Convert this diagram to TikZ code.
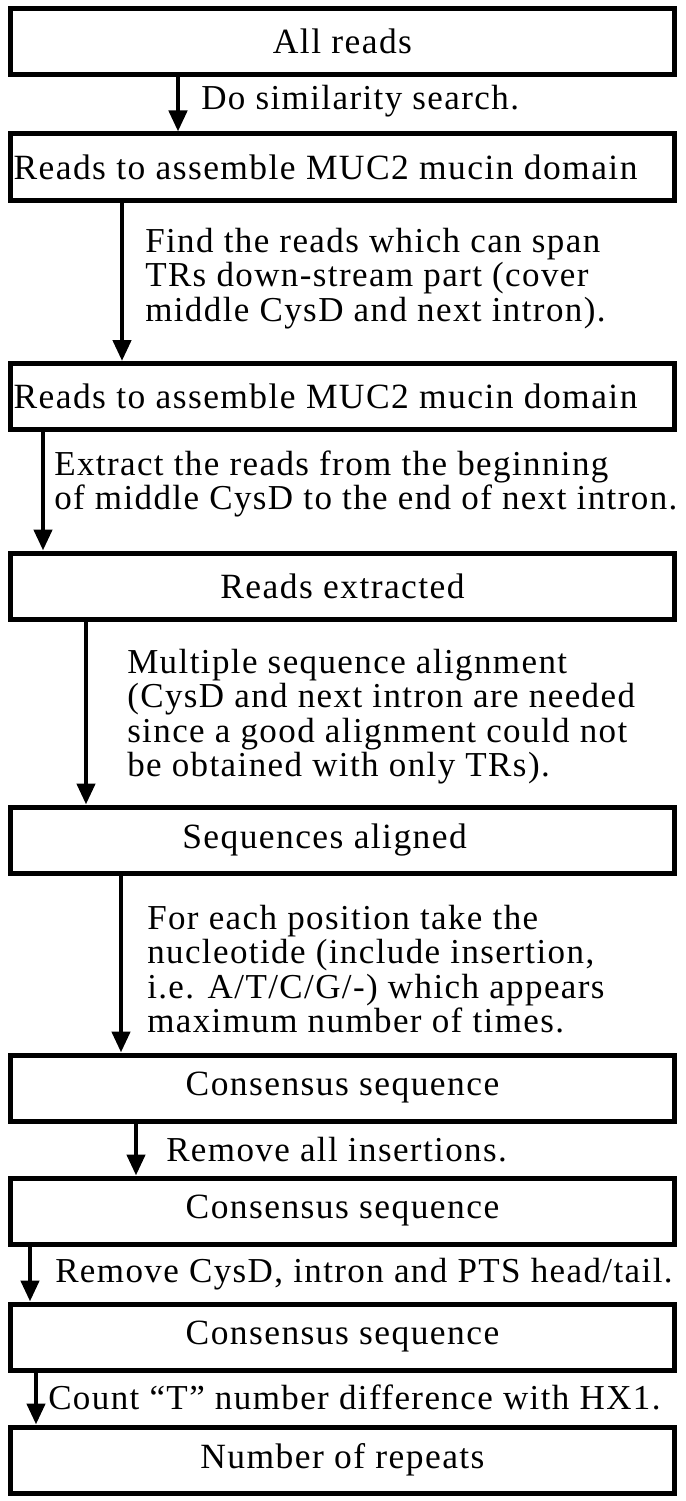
\documentclass[tikz,border=0pt]{standalone}
\usepackage{fontspec}
\setmainfont{Liberation Serif}[LetterSpace=4]
\usetikzlibrary{arrows.meta}
\usetikzlibrary{positioning}

\begin{document}
\begin{tikzpicture}[x=1pt, y=-1pt, on grid,
    box/.style={draw, line width=5pt, minimum width=664pt, minimum height=66pt, inner sep=0pt, font=\fontsize{35.5}{34}\selectfont},
    flow/.style={-{Triangle[length=21pt,width=18pt]}, line width=4.5pt},
    lbl/.style={align=left, inner sep=0pt, font=\fontsize{35}{34.5}\selectfont}]
  \useasboundingbox (0,0) rectangle (685,1501);
  % Steps
  \node[box] (all) at (342.5,41.5) {All reads};
  \node[box] (asmA) [below=125.5pt of all] {Reads to assemble MUC2 mucin domain\hspace*{34pt}};
  \node[box] (asmB) [below=229.5pt of asmA] {Reads to assemble MUC2 mucin domain\hspace*{34pt}};
  \node[box] (extr) [below=189.5pt of asmB] {Reads extracted};
  \node[box] (algn) [below=254pt of extr] {Sequences aligned\hspace*{36pt}};
  \node[box] (consA) [below=248pt of algn] {Consensus sequence};
  \node[box] (consB) [below=123pt of consA] {Consensus sequence};
  \node[box] (consC) [below=126pt of consB] {Consensus sequence};
  \node[box] (rep) [below=123pt of consC] {Number of repeats};

  % Actions between steps
  \draw[flow] ([xshift=170pt]all.south west) -- ([xshift=170pt]asmA.north west)
    node[lbl, right=21pt, pos=.45] {Do similarity search.};
  \draw[flow] ([xshift=114pt]asmA.south west) -- ([xshift=114pt]asmB.north west)
    node[lbl, right=21pt, pos=.48] {Find the reads which can span\\TRs down-stream part (cover\\middle CysD and next intron).};
  \draw[flow] ([xshift=35pt]asmB.south west) -- ([xshift=35pt]extr.north west)
    node[lbl, right=9pt, pos=.44] {Extract the reads from the beginning\\of middle CysD to the end of next intron.};
  \draw[flow] ([xshift=78pt]extr.south west) -- ([xshift=78pt]algn.north west)
    node[lbl, right=39pt, pos=.52] {Multiple sequence alignment\\(CysD and next intron are needed\\since a good alignment could not\\be obtained with only TRs).};
  \draw[flow] ([xshift=113pt]algn.south west) -- ([xshift=113pt]consA.north west)
    node[lbl, right=24pt, pos=.53] {For each position take the\\nucleotide (include insertion,\\i.e. A/T/C/G/-) which appears\\maximum number of times.};
  \draw[flow] ([xshift=128pt]consA.south west) -- ([xshift=128pt]consB.north west)
    node[lbl, right=28pt, pos=.5] {Remove all insertions.};
  \draw[flow] ([xshift=22pt]consB.south west) -- ([xshift=22pt]consC.north west)
    node[lbl, right=23pt, pos=.5] {Remove CysD, intron and PTS head/tail.};
  \draw[flow] ([xshift=28pt]consC.south west) -- ([xshift=28pt]rep.north west)
    node[lbl, right=10pt, pos=.47] {Count ``T'' number difference with HX1.};
\end{tikzpicture}
\end{document}
